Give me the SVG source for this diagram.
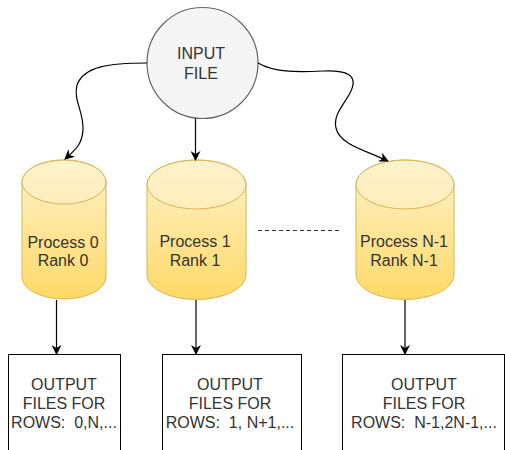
<svg xmlns="http://www.w3.org/2000/svg" width="505" height="450" viewBox="0 0 505 450">
  <defs>
    <linearGradient id="cylFill" x1="0" y1="0" x2="0" y2="1">
      <stop offset="0" stop-color="#fff2cc"/>
      <stop offset="1" stop-color="#ffd966"/>
    </linearGradient>
    <marker id="arrow" viewBox="0 0 10 10" refX="9" refY="5" markerWidth="10" markerHeight="10" markerUnits="userSpaceOnUse" orient="auto">
      <path d="M0,0 L10,5 L0,10 L3,5 Z" fill="#000"/>
    </marker>
  </defs>
  <style>
    .lbl { font-family: "Liberation Sans", Arial, sans-serif; font-size: 16px; fill: #333; text-anchor: middle; }
    .cyl { fill: url(#cylFill); stroke: #d6b656; stroke-width: 1; }
    .cyltop { fill: #fff2cc; fill-opacity: 0.5; stroke: #d6b656; stroke-width: 1; }
    .box { fill: #fff; stroke: #000; stroke-width: 1; }
    .edge { fill: none; stroke: #000; stroke-width: 1.2; }
  </style>

  <rect width="505" height="450" fill="#fff"/>

  <g id="input-file">
    <circle cx="202.5" cy="63" r="55.5" fill="#f5f5f5" stroke="#666" stroke-width="1.2"/>
    <text class="lbl" x="201" y="59">INPUT</text>
    <text class="lbl" x="201" y="79">FILE</text>
  </g>

  <g id="process-0">
    <path class="cyl" d="M22,182 A42,22 0 0 1 106,182 L106,277 A42,22 0 0 1 22,277 Z"/>
    <ellipse class="cyltop" cx="64" cy="182" rx="42" ry="22"/>
    <text class="lbl" x="63" y="248">Process 0</text>
    <text class="lbl" x="63" y="266">Rank 0</text>
  </g>

  <g id="process-1">
    <path class="cyl" d="M147,184.5 A49.5,24.5 0 0 1 246,184.5 L246,275 A49.5,24.5 0 0 1 147,275 Z"/>
    <ellipse class="cyltop" cx="196.5" cy="184.5" rx="49.5" ry="24.5"/>
    <text class="lbl" x="195" y="247">Process 1</text>
    <text class="lbl" x="195" y="266">Rank 1</text>
  </g>

  <g id="process-n-1">
    <path class="cyl" d="M356,184.5 A49,24.5 0 0 1 454,184.5 L454,275 A49,24.5 0 0 1 356,275 Z"/>
    <ellipse class="cyltop" cx="405" cy="184.5" rx="49" ry="24.5"/>
    <text class="lbl" x="404" y="247">Process N-1</text>
    <text class="lbl" x="404" y="266">Rank N-1</text>
  </g>

  <g id="output-0">
    <rect class="box" x="8.5" y="354.5" width="112" height="110"/>
    <text class="lbl" x="64" y="390">OUTPUT</text>
    <text class="lbl" x="64" y="409">FILES FOR</text>
    <text class="lbl" x="64" y="428" xml:space="preserve">ROWS:  0,N,...</text>
  </g>

  <g id="output-1">
    <rect class="box" x="162.5" y="354.5" width="139" height="110"/>
    <text class="lbl" x="230" y="390">OUTPUT</text>
    <text class="lbl" x="230" y="409">FILES FOR</text>
    <text class="lbl" x="230" y="428" xml:space="preserve">ROWS:  1, N+1,...</text>
  </g>

  <g id="output-n-1">
    <rect class="box" x="342.5" y="354.5" width="162" height="110"/>
    <text class="lbl" x="424" y="390">OUTPUT</text>
    <text class="lbl" x="424" y="409">FILES FOR</text>
    <text class="lbl" x="424" y="428" xml:space="preserve">ROWS:  N-1,2N-1,...</text>
  </g>

  <g id="connectors">
    <!-- input file to the three processes -->
    <path class="edge" marker-end="url(#arrow)" d="M147,63 C110,63 84,66 77,85 C73,100 84,112 83,130 C82,145 75,150 65,159"/>
    <path class="edge" marker-end="url(#arrow)" d="M195.5,118.5 L195.5,160"/>
    <path class="edge" marker-end="url(#arrow)" d="M258,63 C275,73 300,72 323,71 C345,70 360,74 350,93 C343,106 333,115 336,128 C340,145 365,150 388,161"/>
    <!-- processes to output files -->
    <path class="edge" marker-end="url(#arrow)" d="M56.5,300 L56.5,354"/>
    <path class="edge" marker-end="url(#arrow)" d="M196,300 L196,354"/>
    <path class="edge" marker-end="url(#arrow)" d="M405,300 L405,354"/>
    <!-- ellipsis between rank 1 and rank N-1 -->
    <path d="M258,230.5 L339,230.5" fill="none" stroke="#333" stroke-width="1" stroke-dasharray="4,3"/>
  </g>
</svg>
